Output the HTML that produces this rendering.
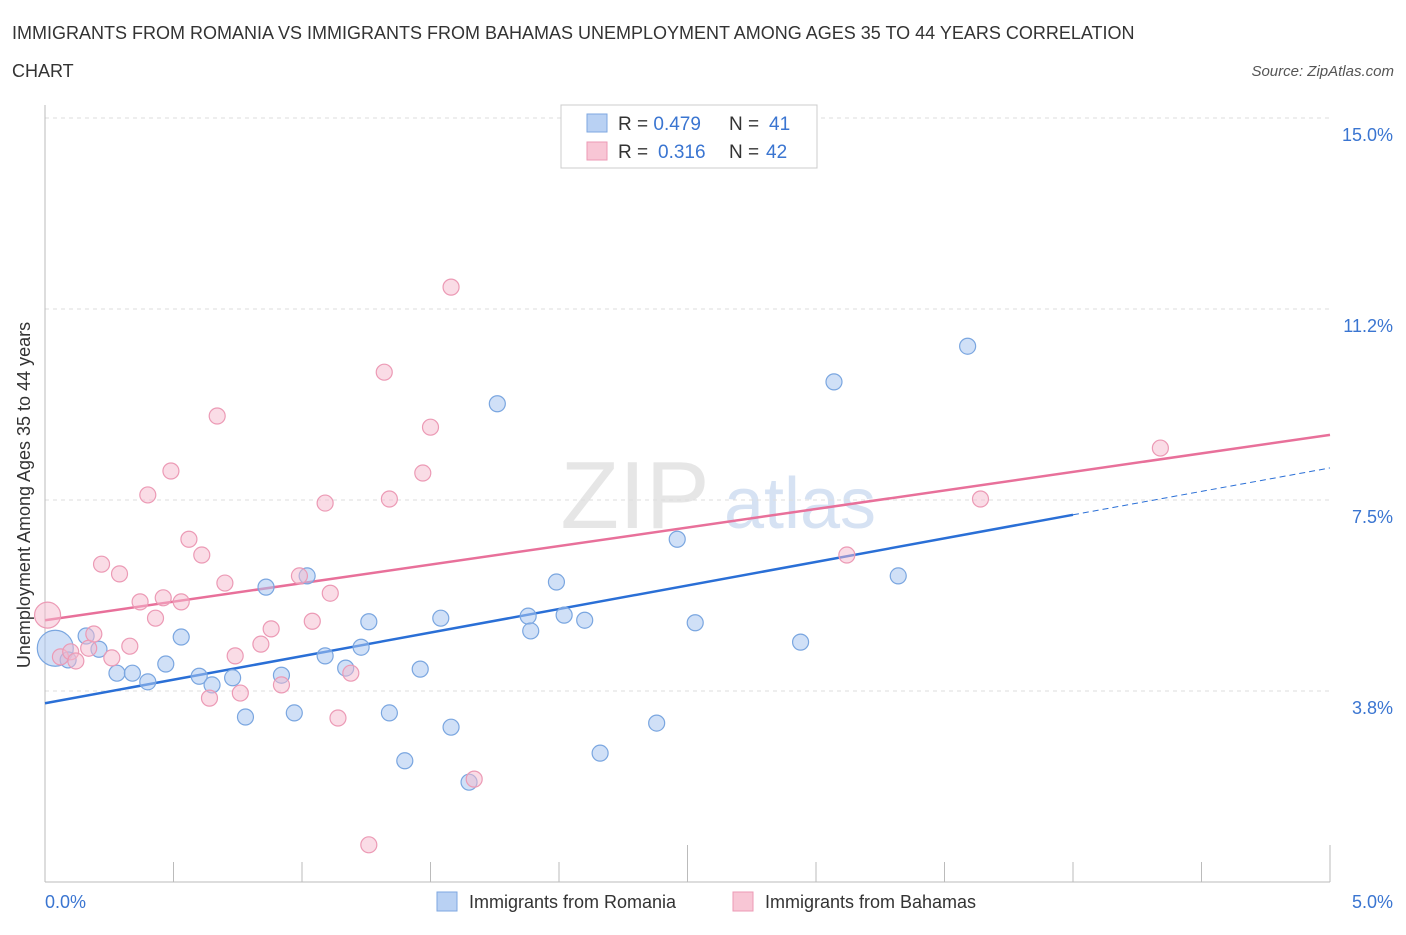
<!DOCTYPE html>
<html><head><meta charset="utf-8">
<style>
body{margin:0;background:#fff;font-family:"Liberation Sans",sans-serif;}
svg text{font-family:"Liberation Sans",sans-serif;}
</style></head>
<body>
<svg id="chart" width="1406" height="930">
<text x="12" y="39" font-size="18" fill="#333">IMMIGRANTS FROM ROMANIA VS IMMIGRANTS FROM BAHAMAS UNEMPLOYMENT AMONG AGES 35 TO 44 YEARS CORRELATION</text>
<text x="12" y="77" font-size="18" fill="#333">CHART</text>
<text x="1394" y="76" font-size="15" fill="#555" font-style="italic" text-anchor="end">Source: ZipAtlas.com</text>
<text x="635" y="528" font-size="96" fill="#e6e6e6" font-family="Liberation Serif" text-anchor="middle">ZIP</text>
<text x="800" y="528" font-size="72" fill="#d6e2f3" text-anchor="middle">atlas</text>
<g id="grid"></g><g id="axes"></g><g id="lines"></g><g id="points"></g>
<text x="30" y="495" font-size="18" fill="#333" text-anchor="middle" transform="rotate(-90 30 495)">Unemployment Among Ages 35 to 44 years</text>
<text x="45" y="908" font-size="18" fill="#3a75d1">0.0%</text>
<text x="1393" y="908" font-size="18" fill="#3a75d1" text-anchor="end">5.0%</text>
<g>
<rect x="561" y="105" width="256" height="63" fill="#fff" stroke="#ccc"/>
<rect x="587" y="114" width="20" height="18" fill="#b9d1f3" stroke="#7ea7e0"/>
<rect x="587" y="142" width="20" height="18" fill="#f8c6d5" stroke="#ec9ab5"/>
<text x="618" y="130" font-size="19" fill="#333">R = <tspan fill="#3a75d1">0.479</tspan><tspan x="729">N = </tspan><tspan fill="#3a75d1" x="769">41</tspan></text>
<text x="618" y="158" font-size="19" fill="#333">R = <tspan fill="#3a75d1" x="658">0.316</tspan><tspan x="729">N = </tspan><tspan fill="#3a75d1" x="766">42</tspan></text>
</g>
<g>
<rect x="437" y="892" width="20" height="19" fill="#b9d1f3" stroke="#7ea7e0"/>
<text x="469" y="908" font-size="18" fill="#333">Immigrants from Romania</text>
<rect x="733" y="892" width="20" height="19" fill="#f8c6d5" stroke="#ec9ab5"/>
<text x="765" y="908" font-size="18" fill="#333">Immigrants from Bahamas</text>
</g>
</svg>
<script>
const yTicks=[3.75,7.5,11.25,15.0];
const yTickLabels=["3.8%","7.5%","11.2%","15.0%"];
const xTicks=[0,0.5,1,1.5,2,2.5,3,3.5,4,4.5,5];
const romaniaX=[0.04,0.09,0.16,0.21,0.28,0.34,0.40,0.47,0.53,0.60,0.65,0.73,0.78,0.86,0.92,0.97,1.02,1.09,1.17,1.23,1.26,1.34,1.40,1.46,1.54,1.58,1.65,1.76,1.88,1.89,1.99,2.02,2.10,2.16,2.38,2.46,2.53,2.94,3.07,3.32,3.59];
const romaniaY=[4.59,4.36,4.83,4.57,4.10,4.10,3.93,4.28,4.81,4.04,3.87,4.01,3.24,5.79,4.06,3.32,6.01,4.44,4.20,4.61,5.11,3.32,2.38,4.18,5.18,3.04,1.96,9.39,5.22,4.93,5.89,5.24,5.14,2.53,3.12,6.73,5.09,4.71,9.82,6.01,10.52];
const bahamasX=[0.01,0.06,0.10,0.12,0.17,0.19,0.22,0.26,0.29,0.33,0.37,0.40,0.43,0.46,0.49,0.53,0.56,0.61,0.64,0.67,0.70,0.74,0.76,0.84,0.88,0.92,0.99,1.04,1.09,1.11,1.14,1.19,1.26,1.32,1.34,1.47,1.50,1.58,1.67,3.12,3.64,4.34];
const bahamasY=[5.24,4.42,4.52,4.34,4.59,4.87,6.24,4.40,6.05,4.63,5.50,7.60,5.18,5.58,8.07,5.50,6.73,6.42,3.61,9.15,5.87,4.44,3.71,4.67,4.97,3.87,6.01,5.12,7.44,5.67,3.22,4.10,0.73,10.01,7.52,8.03,8.93,11.68,2.02,6.42,7.52,8.52];
const romaniaTrend=[3.51,7.21,8.13]; // at x=0, 4.0, 5.0
const bahamasTrend=[5.14,8.78]; // at x=0, 5.0

const NS="http://www.w3.org/2000/svg";
const sx=v=>45+v*257, sy=v=>882-v*50.93;
function mk(tag,attrs,parent){const e=document.createElementNS(NS,tag);for(const k in attrs)e.setAttribute(k,attrs[k]);document.getElementById(parent).appendChild(e);return e;}
yTicks.forEach((t,i)=>{
  const g=mk('line',{x1:45,x2:1330,y1:sy(t),y2:sy(t),stroke:'#ddd','stroke-dasharray':'4,4'},'grid');
  
  
  const tx=mk('text',{x:1393,y:sy(t)+23,'font-size':18,fill:'#3a75d1','text-anchor':'end'},'grid');
  tx.textContent=yTickLabels[i];
  
  
});
const ax=mk('line',{x1:45,x2:45,y1:105,y2:882,stroke:'#bbb'},'axes');


const bx=mk('line',{x1:45,x2:1330,y1:882,y2:882,stroke:'#bbb'},'axes');


xTicks.forEach(t=>{
  const l=mk('line',{x1:sx(t),x2:sx(t),y1:(t===2.5||t===5)?845:862,y2:882,stroke:'#bbb'},'axes');
  
  
});
const bl=mk('line',{x1:sx(0),y1:sy(romaniaTrend[0]),x2:sx(4),y2:sy(romaniaTrend[1]),stroke:'#2a6fd6','stroke-width':2.5},'lines');


const bd=mk('line',{x1:sx(4),y1:sy(romaniaTrend[1]),x2:sx(5),y2:sy(romaniaTrend[2]),stroke:'#2a6fd6','stroke-width':1,'stroke-dasharray':'6,4'},'lines');


const pl=mk('line',{x1:sx(0),y1:sy(bahamasTrend[0]),x2:sx(5),y2:sy(bahamasTrend[1]),stroke:'#e8709a','stroke-width':2.5},'lines');


romaniaX.forEach((x,i)=>{
  const c=mk('circle',{cx:sx(x),cy:sy(romaniaY[i]),r:i===0?18:8,fill:'rgba(170,198,240,0.55)',stroke:'#7aa6e0','stroke-width':1.2},'points');
  
  
});
bahamasX.forEach((x,i)=>{
  const c=mk('circle',{cx:sx(x),cy:sy(bahamasY[i]),r:i===0?13:8,fill:'rgba(246,186,206,0.5)',stroke:'#ec9ab5','stroke-width':1.2},'points');
  
  
});
</script>
</body></html>
